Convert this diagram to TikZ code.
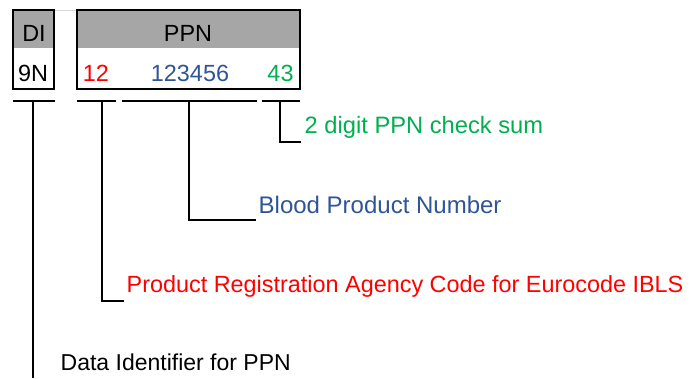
\documentclass[tikz,border=0pt]{standalone}
\usepackage{fontspec}
\setmainfont{Liberation Sans}
\definecolor{headgray}{HTML}{A6A6A6}
\definecolor{ppnred}{HTML}{FF0000}
\definecolor{ppnblue}{HTML}{2F5597}
\definecolor{ppngreen}{HTML}{00B050}
\tikzset{
  field/.style={draw=black, line width=1.6pt, minimum height=79pt, inner sep=0pt,
    path picture={\fill[headgray] (path picture bounding box.north west)
      rectangle ([yshift=-38pt]path picture bounding box.north east);}},
  txt/.style={inner sep=0pt, font=\fontsize{23.4}{28}\selectfont},
  lbl/.style={txt, anchor=base west},
  brace/.style={line width=2pt, line cap=rect},
  tap/.style={line width=2pt},
}
\begin{document}
\begin{tikzpicture}[x=1pt,y=-1pt]
\useasboundingbox[fill=white] (0,0) rectangle (690,378);

% faint rule joining the two field boxes
\draw[black!15, line width=1pt] (54,10) -- (77,10);

% field boxes
\node[field, minimum width=41pt]  (diBox)  at (33.5,49.5)  {};
\node[field, minimum width=223pt] (ppnBox) at (188.5,49.5) {};

% headers and values
\node[txt, anchor=base] (diHead)  at (34,41)  {DI};
\node[txt, anchor=base] (ppnHead) at (188,41) {PPN};
\node[txt, anchor=base] (diVal)   at (33,81)  {9N};
\node[txt, anchor=base, text=ppnred]   (agency)  at (96,81)    {12};
\node[txt, anchor=base, text=ppnblue]  (product) at (190,81)   {123456};
\node[txt, anchor=base, text=ppngreen] (check)   at (280.5,81) {43};

% explanatory labels
\node[lbl, text=ppngreen] (checkLbl)   at (304.5,133) {\fontsize{23.7}{28}\selectfont 2 digit PPN check sum};
\node[lbl, text=ppnblue]  (productLbl) at (258.5,213) {\fontsize{24}{28}\selectfont Blood Product Number};
\node[lbl, text=ppnred]   (agencyLbl)  at (126.5,292) {Product Registration Agency Code for Eurocode IBLS};
\node[lbl]                (diLbl)      at (60.5,370)  {\fontsize{23}{28}\selectfont Data Identifier for PPN};

% bracket spans under the fields
\coordinate (s1a) at (14,101);  \coordinate (s1b) at (54,101);
\coordinate (s2a) at (78,101);  \coordinate (s2b) at (115,101);
\coordinate (s3a) at (123,101); \coordinate (s3b) at (256,101);
\coordinate (s4a) at (263,101); \coordinate (s4b) at (299,101);
\draw[brace] (s1a) -- (s1b);
\draw[brace] (s2a) -- (s2b);
\draw[brace] (s3a) -- (s3b);
\draw[brace] (s4a) -- (s4b);

% taps from each span to its label
\coordinate (k1) at (33,101);
\coordinate (k2) at (102,101);
\coordinate (k3) at (189,101);
\coordinate (k4) at (280,101);
\coordinate (e1) at (33,378);
\coordinate (e2) at (124,300.5);
\coordinate (e3) at (256,220);
\coordinate (e4) at (301,142);
\draw[tap] (k1) -- (e1);
\draw[tap] (k2) |- (e2);
\draw[tap] (k3) |- (e3);
\draw[tap] (k4) |- (e4);
\end{tikzpicture}
\end{document}
